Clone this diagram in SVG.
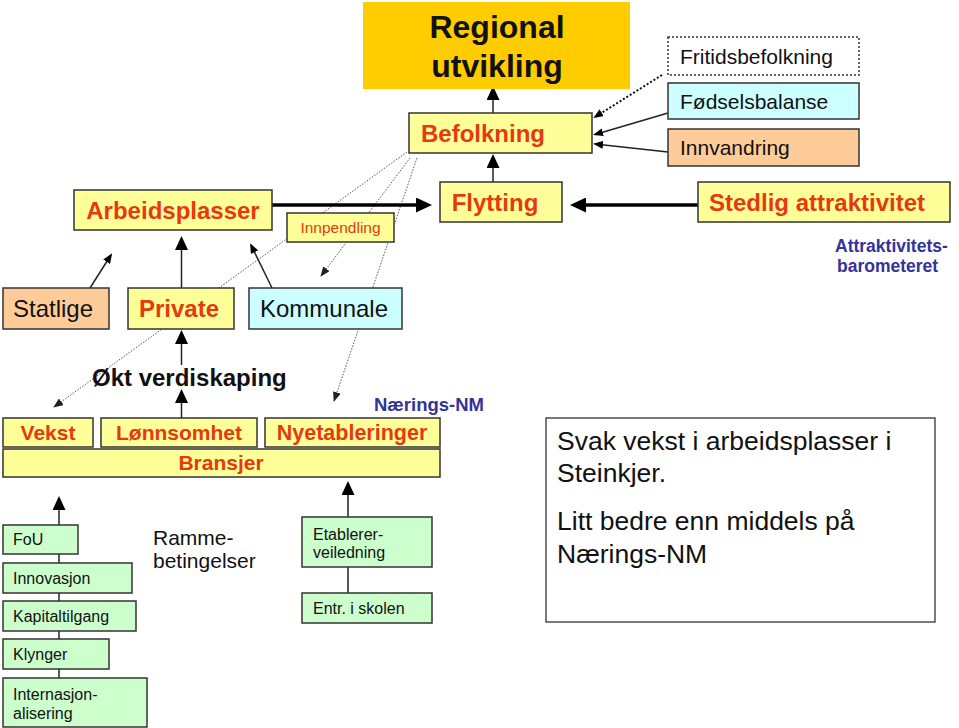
<svg xmlns="http://www.w3.org/2000/svg" width="959" height="728" viewBox="0 0 959 728">
<style>
text{font-family:"Liberation Sans",Arial,sans-serif}
.box{stroke:#333;stroke-width:1.5}
.y{fill:#FFFF99}.c{fill:#CCFFFF}.p{fill:#FFCC99}.g{fill:#CCFFCC}.o{fill:#FFCC00}
.rb{fill:#E8380D;font-weight:bold}
.bk{fill:#111}
.bl{fill:#333399;font-weight:bold}
.mid{text-anchor:middle}
.ln{stroke:#222;stroke-width:1.5;fill:none}
.thick{stroke:#000;stroke-width:3.5;fill:none}
.dot{stroke:#555;stroke-width:1;stroke-dasharray:1.5 1.5;fill:none}
</style>
<defs>
<marker id="ah" markerUnits="userSpaceOnUse" markerWidth="14" markerHeight="13" refX="11" refY="6.5" orient="auto"><path d="M0,0 L14,6.5 L0,13 z" fill="#000"/></marker>
<marker id="big" markerUnits="userSpaceOnUse" markerWidth="16" markerHeight="15" refX="12" refY="7.5" orient="auto"><path d="M0,0 L16,7.5 L0,15 z" fill="#000"/></marker>
<marker id="sm" markerUnits="userSpaceOnUse" markerWidth="10" markerHeight="8" refX="8" refY="4" orient="auto"><path d="M0,0 L10,4 L0,8 z" fill="#000"/></marker>
<marker id="smg" markerUnits="userSpaceOnUse" markerWidth="10" markerHeight="8" refX="9" refY="4" orient="auto"><path d="M0,0 L10,4 L0,8 z" fill="#222"/></marker>
</defs>

<g id="connectors">
<line class="dot" x1="407" y1="152" x2="54" y2="407" marker-end="url(#smg)"/>
<line class="dot" x1="410" y1="158" x2="321" y2="276" marker-end="url(#smg)"/>
<line class="dot" x1="417" y1="158" x2="334" y2="401" marker-end="url(#smg)"/>
<line class="ln" x1="493" y1="113" x2="493" y2="89" marker-end="url(#ah)"/>
<line class="ln" x1="493" y1="182" x2="493" y2="157" marker-end="url(#ah)"/>
<line class="thick" x1="272" y1="205" x2="428" y2="205" marker-end="url(#big)"/>
<line class="thick" x1="698" y1="205" x2="574" y2="205" marker-end="url(#big)"/>
<line x1="662" y1="75" x2="595" y2="117" stroke="#111" stroke-width="2" stroke-dasharray="2 2" marker-end="url(#sm)"/>
<line class="ln" x1="668" y1="113" x2="595" y2="134.5" marker-end="url(#sm)"/>
<line class="ln" x1="668" y1="152" x2="595" y2="144" marker-end="url(#sm)"/>
<line class="ln" x1="90" y1="288" x2="111" y2="255" marker-end="url(#sm)"/>
<line class="ln" x1="181.5" y1="288" x2="181.5" y2="239" marker-end="url(#ah)"/>
<line class="ln" x1="272" y1="288" x2="251" y2="245" marker-end="url(#sm)"/>
<line class="ln" x1="181.5" y1="365" x2="181.5" y2="333" marker-end="url(#ah)"/>
<line class="ln" x1="181.5" y1="418" x2="181.5" y2="392" marker-end="url(#ah)"/>
<line class="ln" x1="59" y1="678" x2="59" y2="499" marker-end="url(#ah)"/>
<line class="ln" x1="348" y1="593" x2="348" y2="484" marker-end="url(#ah)"/>
</g>

<g id="regional"><rect class="o" x="363" y="2" width="267" height="87"/>
<text class="mid" x="497" y="38" font-size="32" font-weight="bold" fill="#111">Regional</text>
<text class="mid" x="497" y="77" font-size="32" font-weight="bold" fill="#111">utvikling</text></g>

<g id="befolkning"><rect class="box y" x="409" y="113" width="183" height="40"/>
<text class="rb mid" x="483" y="142" font-size="24">Befolkning</text></g>

<g id="flytting"><rect class="box y" x="440" y="182" width="122" height="40"/>
<text class="rb mid" x="495" y="211" font-size="24">Flytting</text></g>

<g id="fritid"><rect x="668" y="37" width="191" height="38" fill="#fff" stroke="#333" stroke-width="1.5" stroke-dasharray="2 2"/>
<text class="bk" x="680" y="64" font-size="21">Fritidsbefolkning</text></g>

<g id="fodsel"><rect class="box c" x="668" y="83" width="191" height="36"/>
<text class="bk" x="680" y="109" font-size="21">Fødselsbalanse</text></g>

<g id="innvandring"><rect class="box p" x="668" y="129" width="191" height="37"/>
<text class="bk" x="680" y="155" font-size="21">Innvandring</text></g>

<g id="stedlig"><rect class="box y" x="698" y="182" width="252" height="40"/>
<text class="rb mid" x="817" y="211" font-size="24">Stedlig attraktivitet</text></g>

<g id="barometer">
<text class="bl" x="835" y="252" font-size="17.5">Attraktivitets-</text>
<text class="bl" x="837" y="272" font-size="17.5">barometeret</text></g>

<g id="arbeidsplasser"><rect class="box y" x="74" y="190" width="198" height="40"/>
<text class="rb mid" x="173" y="219" font-size="24">Arbeidsplasser</text></g>

<g id="innpendling"><rect class="box y" x="287" y="213" width="107" height="29"/>
<text class="mid" x="340.5" y="233" font-size="15.5" fill="#E8380D">Innpendling</text></g>

<g id="statlige"><rect class="box p" x="3" y="288" width="106" height="41"/>
<text class="bk" x="13" y="317" font-size="24">Statlige</text></g>

<g id="private"><rect class="box y" x="128" y="288" width="106" height="41"/>
<text class="rb mid" x="179" y="317" font-size="24">Private</text></g>

<g id="kommunale"><rect class="box c" x="249" y="288" width="153" height="41"/>
<text class="bk mid" x="324" y="317" font-size="24">Kommunale</text></g>

<g id="okt"><text x="92" y="386" font-size="24" font-weight="bold" fill="#111">Økt verdiskaping</text></g>

<g id="naeringsnm"><text class="bl" x="374" y="411" font-size="18.5">Nærings-NM</text></g>

<g id="vekst"><rect class="box y" x="3" y="418" width="90" height="29"/>
<text class="rb mid" x="48" y="440" font-size="21">Vekst</text></g>

<g id="lonnsomhet"><rect class="box y" x="101" y="418" width="156" height="29"/>
<text class="rb mid" x="179" y="440" font-size="21">Lønnsomhet</text></g>

<g id="nyetableringer"><rect class="box y" x="265" y="418" width="175" height="29"/>
<text class="rb mid" x="352" y="440" font-size="21.5">Nyetableringer</text></g>

<g id="bransjer"><rect class="box y" x="3" y="449" width="437" height="28"/>
<text class="rb mid" x="221" y="470" font-size="21">Bransjer</text></g>

<g id="fou"><rect class="box g" x="3" y="525" width="75" height="29"/>
<text class="bk" x="13" y="545" font-size="16">FoU</text></g>

<g id="innovasjon"><rect class="box g" x="3" y="563" width="129" height="30"/>
<text class="bk" x="13" y="584" font-size="16">Innovasjon</text></g>

<g id="kapital"><rect class="box g" x="3" y="601" width="133" height="30"/>
<text class="bk" x="13" y="622" font-size="16">Kapitaltilgang</text></g>

<g id="klynger"><rect class="box g" x="3" y="639" width="106" height="30"/>
<text class="bk" x="13" y="660" font-size="16">Klynger</text></g>

<g id="internasjon"><rect class="box g" x="3" y="678" width="144" height="49"/>
<text class="bk" x="13" y="700" font-size="16">Internasjon-</text>
<text class="bk" x="13" y="719" font-size="16">alisering</text></g>

<g id="ramme">
<text class="bk" x="153" y="545" font-size="21">Ramme-</text>
<text class="bk" x="153" y="568" font-size="21">betingelser</text></g>

<g id="etablerer"><rect class="box g" x="302" y="517" width="130" height="50"/>
<text class="bk" x="313" y="540" font-size="16">Etablerer-</text>
<text class="bk" x="313" y="558" font-size="16">veiledning</text></g>

<g id="entr"><rect class="box g" x="302" y="593" width="130" height="30"/>
<text class="bk" x="313" y="614" font-size="16">Entr. i skolen</text></g>

<g id="note"><rect x="546" y="418" width="389" height="204" fill="#fff" stroke="#222" stroke-width="1.2"/>
<text class="bk" x="557" y="450" font-size="26.5">Svak vekst i arbeidsplasser i</text>
<text class="bk" x="557" y="482" font-size="26.5">Steinkjer.</text>
<text class="bk" x="557" y="530" font-size="26.5">Litt bedre enn middels på</text>
<text class="bk" x="557" y="563" font-size="26.5">Nærings-NM</text></g>
</svg>
